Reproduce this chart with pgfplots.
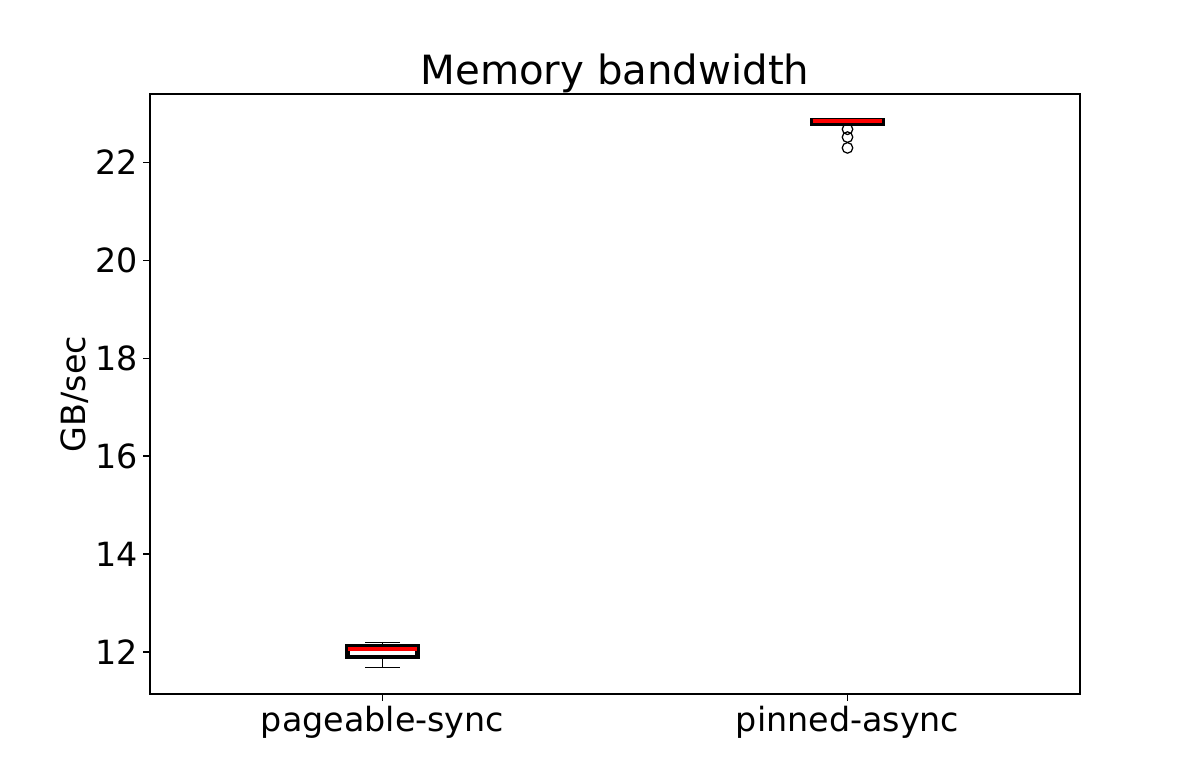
\documentclass[border=0pt]{standalone}
\usepackage{pgfplots}
\pgfplotsset{compat=1.18}
\usepgfplotslibrary{statistics}
\usepackage{fontspec}
\setmainfont{DejaVu Sans}
\begin{document}
\begin{tikzpicture}
\begin{axis}[
    scale only axis,
    width=669.6pt, height=432pt,
    xmin=0.5, xmax=2.5,
    ymin=11.143, ymax=23.39,
    xtick={1,2},
    xticklabels={pageable-sync, pinned-async},
    ytick={12,14,16,18,20,22},
    tick align=outside,
    tick pos=left,
    major tick length=5pt,
    axis line style={line width=0.8pt},
    tick style={black, line width=0.8pt},
    ticklabel style={font=\fontsize{24}{28}\selectfont},
    /pgf/number format/assume math mode=true,
    ylabel={GB/sec},
    ylabel style={font=\fontsize{24}{28}\selectfont, yshift=-2pt},
    title={Memory bandwidth},
    title style={font=\fontsize{29}{33}\selectfont, yshift=-9pt},
    boxplot/draw direction=y,
    boxplot/box extend=0.15,
    boxplot/whisker extend=0.075,
    boxplot/every box/.style={line width=3.2pt},
    boxplot/every whisker/.style={line width=0.9pt},
    boxplot/every median/.style={red, line width=3.2pt},
]
% pageable-sync
\addplot[black,
    boxplot prepared={draw position=1,
        lower whisker=11.69, lower quartile=11.90,
        median=12.06, upper quartile=12.12, upper whisker=12.20}]
    coordinates {};
% pinned-async
\addplot[black,
    boxplot prepared={draw position=2,
        lower whisker=22.74, lower quartile=22.79,
        median=22.835, upper quartile=22.86, upper whisker=22.87}]
    coordinates {};
% outliers
\addplot[only marks, mark=o, mark size=3.8pt, black, line width=0.9pt]
    coordinates {(2,22.67) (2,22.51) (2,22.29)};
\end{axis}
\path (current axis.south west) ++(-108pt,-61.92pt) rectangle ++(864pt,561.6pt);
\end{tikzpicture}
\end{document}
